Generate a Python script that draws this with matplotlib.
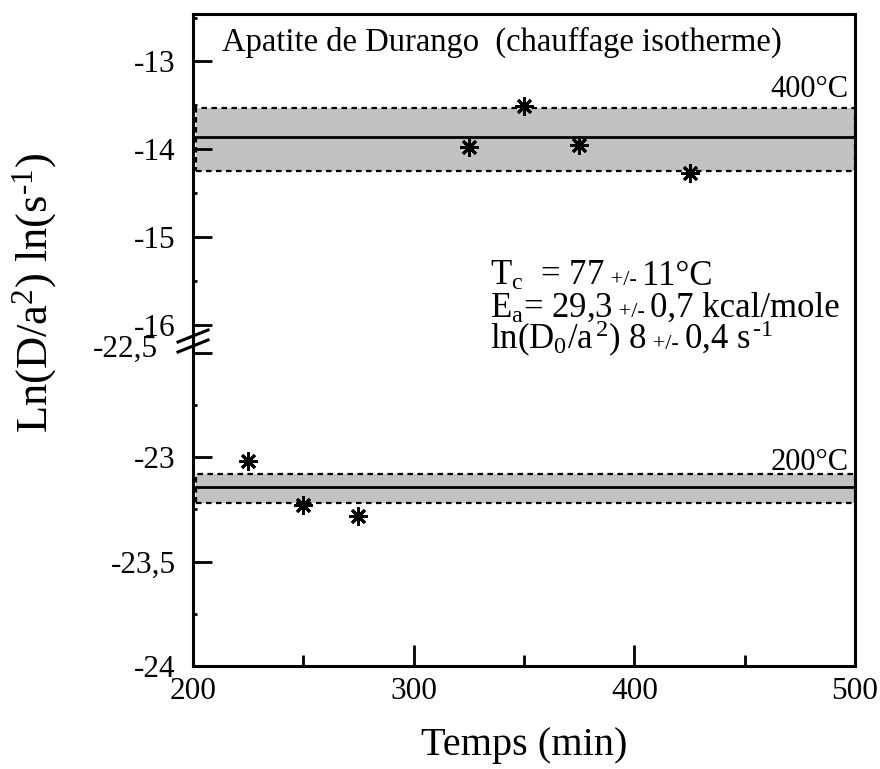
import numpy as np
import matplotlib
matplotlib.use('Agg')
import matplotlib.pyplot as plt
from matplotlib.ticker import MultipleLocator, FixedLocator
from matplotlib.transforms import ScaledTranslation

plt.rcParams['font.family'] = ['Liberation Serif', 'DejaVu Serif']
plt.rcParams['mathtext.fontset'] = 'custom'
plt.rcParams['mathtext.rm'] = 'Liberation Serif'
plt.rcParams['mathtext.it'] = 'Liberation Serif:italic'

# data
t_400 = [325, 350, 375, 425]
lnD_400 = [-13.97, -13.51, -13.95, -14.27]
band_400 = (-14.25, -13.86, -13.53)   # low, mean, high

t_200 = [225, 250, 275]
lnD_200 = [-23.02, -23.23, -23.28]
band_200 = (-23.22, -23.145, -23.08)

upper_ticks = [-13, -14, -15, -16]
lower_ticks = [-22.5, -23, -23.5, -24]

fig = plt.figure(figsize=(8.8, 7.69), dpi=100)
W, H = 880, 769
L, R = 193 / W, 855 / W
top, mid, bot = 1 - 14 / H, 1 - 338 / H, 1 - 666 / H
ax1 = fig.add_axes([L, mid, R - L, top - mid])
ax2 = fig.add_axes([L, bot, R - L, mid - bot])

ax1.set_ylim(-16.15, -12.46)
ax2.set_ylim(-24, -22.43)
for ax in (ax1, ax2):
    ax.patch.set_visible(False)
    ax.set_xlim(200, 500)
    for s in ax.spines.values():
        s.set_linewidth(2.2)
    ax.tick_params(which='both', direction='in', width=2, labelsize=22.5,
                   top=False, right=False)
    ax.tick_params(axis='y', which='major', length=14, pad=12.5)
    ax.tick_params(axis='y', which='minor', length=3)
    ax.tick_params(axis='x', which='major', length=15, pad=8)
    ax.tick_params(axis='x', which='minor', length=8)

ax1.spines['bottom'].set_visible(False)
ax2.spines['top'].set_visible(False)
ax1.tick_params(axis='x', which='both', bottom=False, labelbottom=False)

ax1.yaxis.set_major_locator(FixedLocator(upper_ticks))
ax1.yaxis.set_minor_locator(FixedLocator([-12.5, -13.5, -14.5, -15.5]))
ax1.set_yticklabels([str(v) for v in upper_ticks])
ax2.yaxis.set_major_locator(FixedLocator(lower_ticks))
ax2.yaxis.set_minor_locator(FixedLocator([-22.75, -23.25, -23.75]))
ax2.set_yticklabels([('%g' % v).replace('.', ',') for v in lower_ticks])
ax2.xaxis.set_major_locator(MultipleLocator(100))
ax2.xaxis.set_minor_locator(MultipleLocator(50))

# "-22,5" sits up and to the left of its tick, clear of the break marks
lab = ax2.yaxis.get_major_ticks()[0].label1
lab.set_transform(lab.get_transform() + ScaledTranslation(-0.18, 0.07, fig.dpi_scale_trans))

# bands
for ax, (lo, mean, hi) in ((ax1, band_400), (ax2, band_200)):
    ax.axhspan(lo, hi, xmin=0.004, xmax=1, facecolor='#c1c2c4',
               edgecolor='black', linestyle=(0, (2.5, 2)), linewidth=1.6, zorder=1)
    ax.axhline(mean, color='black', linewidth=2, zorder=2)

mk = dict(marker=(8, 2, 0), color='black', markersize=13, markeredgewidth=2,
          linestyle='none', zorder=3)
ax1.plot(t_400, lnD_400, **mk)
ax2.plot(t_200, lnD_200, **mk)

ax1.text(497, -13.41, '400°C', fontsize=22, ha='right', va='baseline')
ax2.text(497, -23.06, '200°C', fontsize=22, ha='right', va='baseline')
fig.text(222 / W, 1 - 51 / H, 'Apatite de Durango  (chauffage isotherme)',
         fontsize=23.5, ha='left', va='baseline')

# parameters block, pieces put side by side on one baseline so "+/-" can be smaller
big, small = 25, 16
renderer = fig.canvas.get_renderer()


def chain(x_px, base_px, pieces):
    x = x_px
    for txt, fs in pieces:
        t = fig.text(x / W, 1 - base_px / H, txt, fontsize=fs, ha='left',
                     va='baseline')
        x = t.get_window_extent(renderer).x1


chain(490, 285, [('T$_{\\mathrm{c}}$  = 77', big), (' +/- ', small), ('11°C', big)])
chain(490, 317, [('E$_{\\mathrm{a}}$= 29,3', big), (' +/- ', small),
                 ('0,7 kcal/mole', big)])
chain(490, 349, [('ln(D$_{\\mathrm{0}}$/a$^{\\,2}$) 8', big), (' +/- ', small),
                 ('0,4 s$^{\\,\\text{-1}}$', big)])

# break marks on the left spine
yb = 1 - 341 / H
for dy in (-5 / H, 5 / H):
    fig.add_artist(plt.Line2D([178 / W, 208 / W],
                              [yb + dy - 6 / H, yb + dy + 6 / H],
                              color='black', linewidth=2.2))

fig.text(35 / W, 1 - 293 / H, 'Ln(D/a$^{2}$) ln(s$^{\\text{-1}}$)', fontsize=32,
         rotation=90, ha='center', va='center')
fig.text((L + R) / 2, 1 - 745 / H, 'Temps (min)', fontsize=29,
         ha='center', va='center')

fig.savefig('out.png', dpi=100)
